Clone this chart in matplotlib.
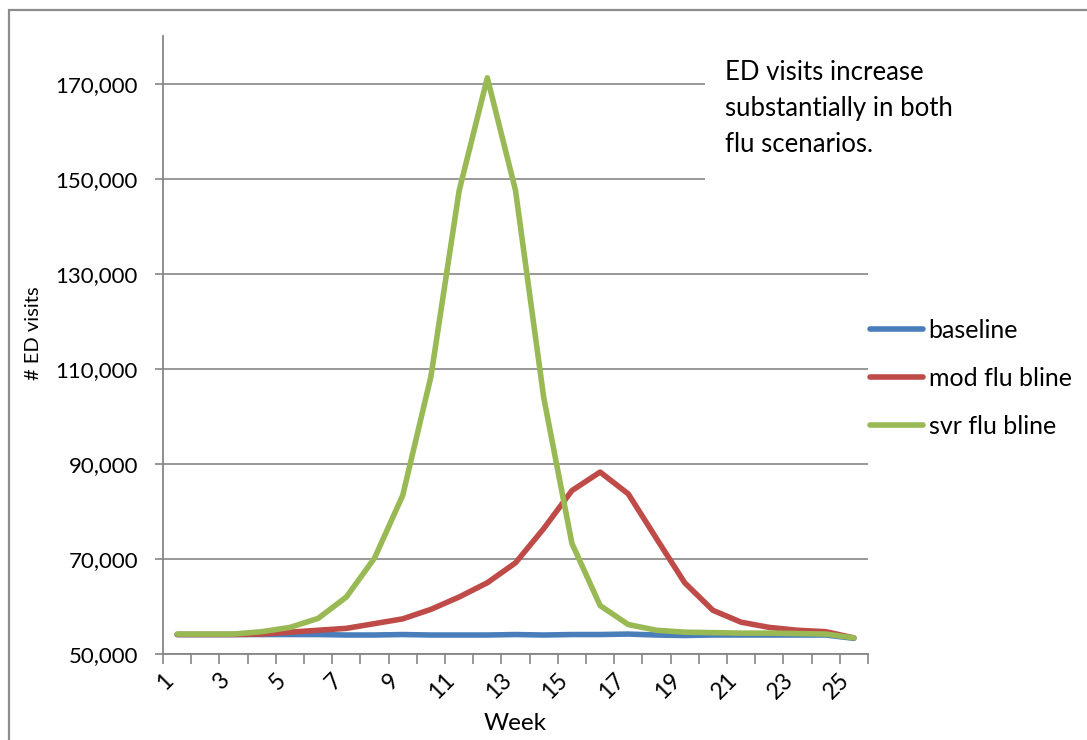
import numpy as np
import matplotlib.pyplot as plt
from matplotlib.patches import Rectangle
from matplotlib.ticker import FuncFormatter
from matplotlib.transforms import ScaledTranslation

plt.rcParams['font.family'] = ['Lato', 'DejaVu Sans']

# Weekly emergency department visits under three scenarios
weeks = list(range(1, 26))
baseline = [54100, 54100, 54100, 54100, 54100, 54100, 54000, 54000, 54100,
            54000, 54000, 54000, 54100, 54000, 54100, 54100, 54200, 54000,
            53900, 54000, 54000, 54000, 54000, 54000, 53300]
mod_flu = [54100, 54100, 54100, 54200, 54600, 55000, 55400, 56400, 57400,
           59400, 62000, 65000, 69200, 76400, 84400, 88300, 83700, 74300,
           65000, 59200, 56700, 55600, 55000, 54700, 53400]
svr_flu = [54200, 54200, 54200, 54700, 55600, 57500, 62000, 70200, 83400,
           108400, 147500, 171300, 147600, 104000, 73300, 60200, 56200, 55000,
           54600, 54500, 54400, 54400, 54300, 54200, 53400]
series_names = ['baseline', 'mod flu bline', 'svr flu bline']
series_colors = ['#4A7EBB', '#BE4B48', '#98B954']
y_ticks = [50000, 70000, 90000, 110000, 130000, 150000, 170000]
note = "ED visits increase\nsubstantially in both\nflu scenarios."

grey = '#868686'

fig = plt.figure(figsize=(10.87, 7.4), dpi=100)
ax = fig.add_axes([0.15, 0.1162, 0.6485, 0.8345])

# outer frame around the chart area
fig.patches.append(Rectangle((9 / 1087, -0.05), 1.2, 1 - 10 / 740 + 0.05,
                             transform=fig.transFigure, fill=False,
                             edgecolor='#8c8c8c', linewidth=1.6))

for vals, name, col in zip([baseline, mod_flu, svr_flu], series_names, series_colors):
    ax.plot(weeks, vals, color=col, linewidth=4.0, label=name,
            solid_joinstyle='round', solid_capstyle='round', zorder=3)

ax.set_xlim(0.5, 25.5)
ax.set_ylim(50000, 180000)

ax.set_yticks(y_ticks)
ax.yaxis.set_major_formatter(FuncFormatter(lambda v, p: f'{int(v):,}'))
ax.yaxis.grid(True, color=grey, linewidth=1.2)
ax.set_axisbelow(True)

# ticks sit between categories, labels on every other week
ax.set_xticks(np.arange(0.5, 26, 1))
ax.set_xticklabels([])
ax.set_xticks(weeks[::2], minor=True)
ax.set_xticklabels([str(w) for w in weeks[::2]], minor=True,
                   rotation=45, ha='right', fontsize=16.5)
shift = ScaledTranslation(8 / 100, 0, fig.dpi_scale_trans)
for lbl in ax.get_xticklabels(minor=True):
    lbl.set_transform(lbl.get_transform() + shift)
ax.tick_params(axis='x', which='major', length=7, width=1.2, color=grey,
               direction='out')
ax.tick_params(axis='x', which='minor', length=0, pad=11)
ax.tick_params(axis='y', length=6, width=1.2, color=grey, pad=12,
               labelsize=16)

for side in ['top', 'right']:
    ax.spines[side].set_visible(False)
for side in ['left', 'bottom']:
    ax.spines[side].set_color(grey)
    ax.spines[side].set_linewidth(1.3)

ax.set_xlabel('Week', fontsize=17.5)
ax.xaxis.set_label_coords(0.5, -0.112)
ax.xaxis.label.set_va('center')
ax.set_ylabel('# ED visits', fontsize=14.5)
ax.yaxis.set_label_coords(-0.184, 0.52)
ax.yaxis.label.set_va('center')

# white note box that hides the upper gridlines on the right
ax.add_patch(Rectangle((0.769, 0.687), 0.3, 0.32, transform=ax.transAxes,
                       facecolor='white', edgecolor='none', zorder=2,
                       clip_on=False))
ax.text(0.797, 0.962, note, transform=ax.transAxes, fontsize=18.5,
        va='top', ha='left', linespacing=1.55, zorder=4)

fig.legend(loc='center left', bbox_to_anchor=(0.8004, 0.489), frameon=False,
           fontsize=18, handlelength=2.1, handletextpad=0.24,
           labelspacing=1.0, borderpad=0, borderaxespad=0)

fig.savefig('out.png', dpi=100)
